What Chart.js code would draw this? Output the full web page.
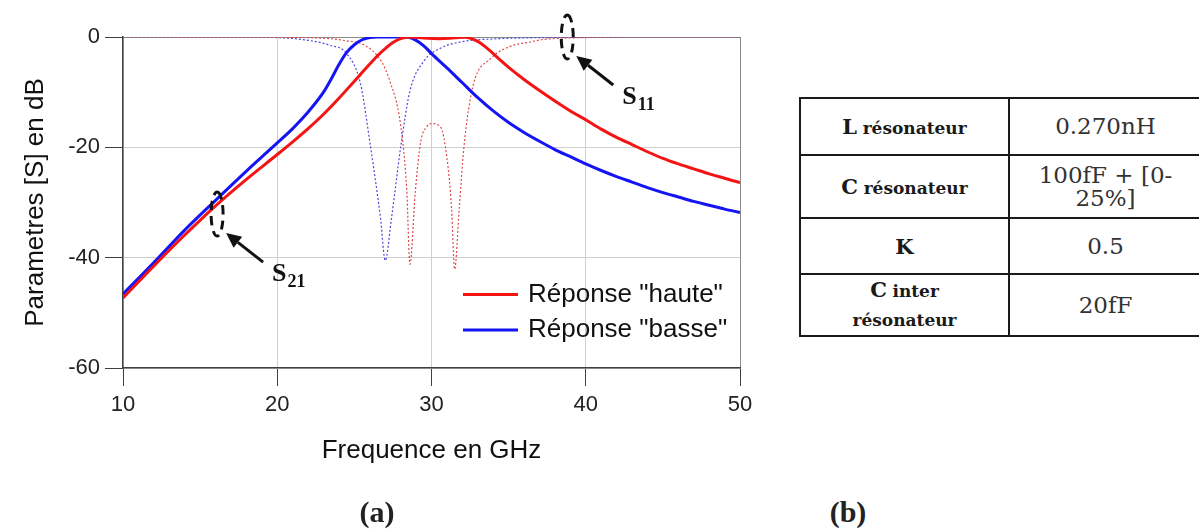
<!DOCTYPE html>
<html><head><meta charset="utf-8">
<script src="https://cdn.jsdelivr.net/npm/chart.js@4"></script>
<style>
html,body{margin:0;padding:0;background:#fff;width:1199px;height:532px;overflow:hidden;}
#wrap{position:absolute;left:0;top:0;width:780px;height:532px;}
#tbl{position:absolute;left:799px;top:97px;width:430px;border-collapse:collapse;color:#1a1a1a;table-layout:fixed;}
#tbl td{border:2px solid #1a1a1a;text-align:center;vertical-align:middle;padding:0;}
#tbl td.k{font-family:"DejaVu Serif",serif;font-weight:bold;}
#tbl td.v{font-family:"DejaVu Serif",serif;font-size:23px;color:#333;line-height:23px;text-align:left;}
#tbl td.v span{display:inline-block;width:191px;text-align:center;}
.big{font-size:21px;}
.sm{font-size:17px;}
.lab{position:absolute;top:497px;width:100px;text-align:center;font-family:"Liberation Serif","Times New Roman",serif;font-weight:bold;font-size:30px;line-height:30px;color:#222;}
</style></head>
<body>
<div id="wrap"><canvas id="c" width="780" height="532"></canvas></div>
<table id="tbl">
<colgroup><col style="width:209px"><col style="width:221px"></colgroup>
<tr style="height:57px"><td class="k"><span class="big">L</span> <span class="sm">résonateur</span></td><td class="v"><span>0.270nH</span></td></tr>
<tr style="height:63px"><td class="k"><span class="big">C</span> <span class="sm">résonateur</span></td><td class="v"><span>100fF + [0-<br>25%]</span></td></tr>
<tr style="height:56px"><td class="k"><span class="big">K</span></td><td class="v"><span>0.5</span></td></tr>
<tr style="height:62px"><td class="k" style="line-height:28px"><span class="big">C</span> <span class="sm">inter</span><br><span class="sm">résonateur</span></td><td class="v"><span>20fF</span></td></tr>
</table>
<div class="lab" style="left:327px">(a)</div>
<div class="lab" style="left:798px">(b)</div>
<script>
// ---- data ----
const xTickLabels = ['10', '20', '30', '40', '50'];
const yTickLabels = ['0', '-20', '-40', '-60'];
const xTitle = 'Frequence en GHz';
const yTitle = 'Parametres [S] en dB';
const seriesNames = ['Réponse "haute"', 'Réponse "basse"'];

const freqS21Haute = [10, 12, 14, 16, 18, 20, 21, 22, 23, 24, 25, 26, 26.5, 27, 27.5, 28, 28.5, 29.5, 30.5, 31.5, 32.2, 32.5, 33, 33.5, 34, 34.5, 35, 36, 37, 38, 39, 40, 41, 42, 43, 44, 45, 46, 47, 48, 49, 50];
const s21Haute     = [-47.3, -41.5, -35.9, -30.6, -25.8, -21.3, -19.0, -16.6, -14.0, -11.1, -8.0, -4.9, -3.4, -2.1, -1.0, -0.3, 0, -0.2, -0.3, -0.15, -0.05, -0.2, -0.8, -1.8, -3.0, -4.3, -5.5, -7.7, -9.7, -11.6, -13.4, -15.0, -16.7, -18.2, -19.5, -20.8, -22.0, -23.0, -23.9, -24.8, -25.6, -26.4];

const freqS21Basse = [10, 12, 14, 16, 18, 20, 21, 22, 23, 23.5, 24, 24.5, 25, 25.5, 26, 26.5, 27.5, 28.4, 29, 29.5, 30, 31, 32, 33, 34, 35, 36, 37, 38, 39, 40, 41, 42, 43, 44, 45, 46, 47, 48, 49, 50];
const s21Basse     = [-46.6, -40.9, -35.0, -29.6, -24.3, -19.2, -16.6, -13.6, -10.0, -7.6, -5.0, -2.8, -1.4, -0.5, -0.1, 0, 0, 0, -0.6, -1.6, -3.0, -5.6, -8.3, -11.0, -13.4, -15.5, -17.3, -18.9, -20.4, -21.7, -23.0, -24.2, -25.3, -26.3, -27.3, -28.2, -29.0, -29.8, -30.5, -31.2, -31.8];

const freqS11Haute = [10, 20, 23.4, 24.5, 25.6, 26.7, 27.3, 28.0, 28.4, 28.6, 28.95, 29.3, 29.7, 30.0, 30.6, 31.0, 31.3, 31.5, 31.8, 32.1, 32.7, 33.8, 35.1, 36.4, 37.1, 40, 43, 50];
const s11Haute     = [0, -0.05, -0.3, -0.7, -1.4, -4.2, -8.0, -16, -28, -41.2, -28, -19, -16.2, -15.7, -16.4, -21.9, -31, -42.1, -31, -20, -8.8, -4.0, -1.7, -0.9, -0.5, -0.1, 0, 0];

const freqS11Basse = [10, 18, 20, 22, 23.4, 24.5, 25.4, 26.0, 26.7, 27.0, 27.4, 28.0, 28.6, 29.5, 30.6, 32.1, 34.0, 37.0, 40.0, 43, 50];
const s11Basse     = [0, -0.02, -0.1, -0.6, -1.5, -3.0, -8.5, -19, -33, -40.5, -33, -20, -9.8, -4.4, -2.0, -0.8, -0.35, -0.12, -0.05, 0, 0];

const annotMain = ['S', 'S'];
const annotSub = ['21', '11'];
const annotFreq = [16.1, 38.8];
const annotDb = [-32.1, 0];

// ---- helpers ----
const zip = (xs, ys) => xs.map((v, i) => ({x: v, y: ys[i]}));
const SANS = '"Liberation Sans", Arial, sans-serif';

const legendPlugin = {
  id: 'insideLegend',
  afterDatasetsDraw(chart) {
    const ctx = chart.ctx, a = chart.chartArea;
    const items = chart.data.datasets.filter(d => d.inLegend);
    ctx.save();
    ctx.font = '26px ' + SANS;
    ctx.textBaseline = 'middle';
    ctx.textAlign = 'left';
    items.forEach((d, i) => {
      const y = a.bottom - 73.5 + i * 35.5;
      ctx.strokeStyle = d.borderColor; ctx.lineWidth = 3;
      ctx.beginPath(); ctx.moveTo(a.right - 277, y); ctx.lineTo(a.right - 222, y); ctx.stroke();
      ctx.fillStyle = '#111';
      ctx.fillText(d.label, a.right - 212, y);
    });
    ctx.restore();
  }
};

const annotPlugin = {
  id: 'annot',
  afterDatasetsDraw(chart) {
    const ctx = chart.ctx, xs = chart.scales.x, ys = chart.scales.y;
    annotMain.forEach((m, i) => {
      const cx = xs.getPixelForValue(annotFreq[i]), cy = ys.getPixelForValue(annotDb[i]);
      ctx.save();
      ctx.strokeStyle = '#111'; ctx.fillStyle = '#111'; ctx.lineWidth = 3;
      ctx.setLineDash([9, 6]);
      ctx.beginPath(); ctx.ellipse(cx, cy, 6, 22, 0, -Math.PI / 2, Math.PI * 1.5); ctx.stroke();
      ctx.setLineDash([]);
      const tx = cx + 46, ty = cy + 48, hx = cx + 9, hy = cy + 19;
      const ang = Math.atan2(hy - ty, hx - tx);
      const hl = 15, hw = 7;
      const bx = hx - hl * Math.cos(ang), by = hy - hl * Math.sin(ang);
      ctx.beginPath(); ctx.moveTo(tx, ty); ctx.lineTo(bx, by); ctx.stroke();
      ctx.beginPath(); ctx.moveTo(hx, hy);
      ctx.lineTo(bx + hw * Math.sin(ang), by - hw * Math.cos(ang));
      ctx.lineTo(bx - hw * Math.sin(ang), by + hw * Math.cos(ang));
      ctx.closePath(); ctx.fill();
      ctx.font = 'bold 26px "Liberation Serif", "Times New Roman", serif';
      ctx.textBaseline = 'alphabetic'; ctx.textAlign = 'left';
      ctx.fillText(m, cx + 55, cy + 67);
      const w = ctx.measureText(m).width;
      ctx.font = 'bold 18px "Liberation Serif", "Times New Roman", serif';
      ctx.fillText(annotSub[i], cx + 55 + w + 1, cy + 73);
      ctx.restore();
    });
  }
};

const lineOpts = {showLine: true, pointRadius: 0, fill: false, cubicInterpolationMode: 'monotone'};

new Chart(document.getElementById('c'), {
  type: 'scatter',
  data: {
    datasets: [
      Object.assign({label: seriesNames[0], data: zip(freqS21Haute, s21Haute), borderColor: '#f51414', borderWidth: 3, inLegend: true}, lineOpts),
      Object.assign({label: seriesNames[1], data: zip(freqS21Basse, s21Basse), borderColor: '#1414f5', borderWidth: 3, inLegend: true}, lineOpts),
      Object.assign({label: 'S11 haute', data: zip(freqS11Haute, s11Haute), borderColor: '#e04a4a', borderWidth: 1.2, borderDash: [2, 2]}, lineOpts),
      Object.assign({label: 'S11 basse', data: zip(freqS11Basse, s11Basse), borderColor: '#4a4ad8', borderWidth: 1.2, borderDash: [2, 2]}, lineOpts)
    ]
  },
  options: {
    responsive: false,
    animation: false,
    devicePixelRatio: 1,
    layout: {padding: {left: 0, right: 40, top: 37, bottom: 0}},
    plugins: {legend: {display: false}, tooltip: {enabled: false}},
    scales: {
      x: {
        type: 'linear', min: 10, max: 50,
        afterFit: s => { s.height = 164; },
        ticks: {stepSize: 10, maxRotation: 0, padding: 6, color: '#222', font: {family: SANS, size: 22},
          callback: v => xTickLabels[Math.round((v - 10) / 10)]},
        grid: {color: c => (c.tick && c.tick.value === 50) ? '#8c8c8c' : '#cfcfcf', tickColor: '#404040', tickLength: 18, lineWidth: 1},
        border: {color: '#404040', width: 1.5},
        title: {display: true, text: xTitle, color: '#111', font: {family: SANS, size: 26}, padding: {top: 0, bottom: 66}}
      },
      y: {
        type: 'linear', min: -60, max: 0,
        afterFit: s => { s.width = 123; },
        ticks: {stepSize: 20, padding: 5, color: '#222', font: {family: SANS, size: 22},
          callback: v => yTickLabels[Math.round(-v / 20)]},
        grid: {color: c => (c.tick && c.tick.value === 0) ? '#8c8c8c' : '#cfcfcf', tickColor: '#404040', tickLength: 18, lineWidth: 1},
        border: {color: '#404040', width: 1.5},
        title: {display: true, text: yTitle, color: '#111', font: {family: SANS, size: 26}, padding: {top: 20, bottom: 0}}
      }
    }
  },
  plugins: [legendPlugin, annotPlugin]
});
</script>
</body></html>
